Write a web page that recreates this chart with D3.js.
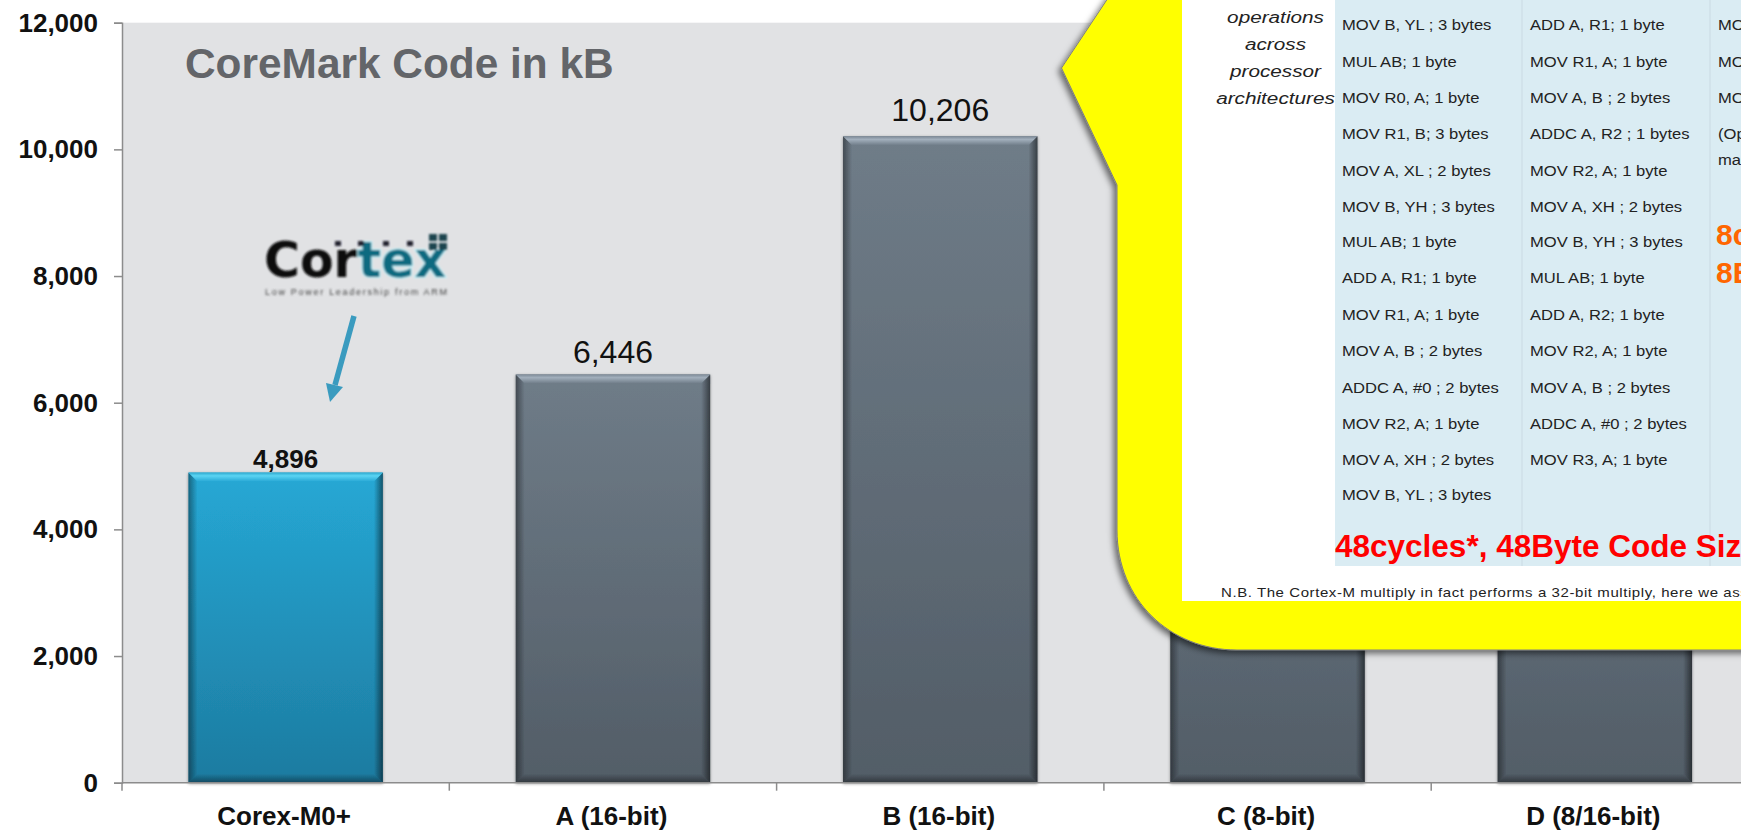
<!DOCTYPE html>
<html>
<head>
<meta charset="utf-8">
<script src="https://cdn.jsdelivr.net/npm/d3@7"></script>
<style>
html, body { margin: 0; padding: 0; background: #fff; overflow: hidden; }
text { font-family: "Liberation Sans", Arial, sans-serif; }
</style>
</head>
<body>
<svg id="chart" width="1741" height="836"></svg>
<script>
// chart data, C and D tops are hidden behind the callout so those two are guesses
var categories = ["Corex-M0+", "A (16-bit)", "B (16-bit)", "C (8-bit)", "D (8/16-bit)"];
var codeSize = [4896, 6446, 10206, 7000, 6900];
var yTicks = [0, 2000, 4000, 6000, 8000, 10000, 12000];

// callout text
var sideNote = ["operations", "across", "processor", "architectures"];
var col1 = ["MOV B, YL ; 3 bytes", "MUL AB; 1 byte", "MOV R0, A; 1 byte", "MOV R1, B; 3 bytes", "MOV A, XL ; 2 bytes", "MOV B, YH ; 3 bytes", "MUL AB; 1 byte", "ADD A, R1; 1 byte", "MOV R1, A; 1 byte", "MOV A, B ; 2 bytes", "ADDC A, #0 ; 2 bytes", "MOV R2, A; 1 byte", "MOV A, XH ; 2 bytes", "MOV B, YL ; 3 bytes"];
var col2 = ["ADD A, R1; 1 byte", "MOV R1, A; 1 byte", "MOV A, B ; 2 bytes", "ADDC A, R2 ; 1 bytes", "MOV R2, A; 1 byte", "MOV A, XH ; 2 bytes", "MOV B, YH ; 3 bytes", "MUL AB; 1 byte", "ADD A, R2; 1 byte", "MOV R2, A; 1 byte", "MOV A, B ; 2 bytes", "ADDC A, #0 ; 2 bytes", "MOV R3, A; 1 byte"];
var col3 = ["MOV", "MOV", "MOV", "(Optional", "ma"];
var rowY = [25, 62, 98, 134, 171, 207, 242, 278, 315, 351, 388, 424, 460, 495];
var col3Y = [25, 62, 98, 134, 160];

var svg = d3.select("#chart");
var W = 1741, H = 836;

var left = 122, top_ = 22.7, bottom = 782.7;
var step = 327.3;

var x = d3.scaleBand().domain(categories).range([left, left + step * categories.length]).paddingInner(0.406).paddingOuter(0.203);
var y = d3.scaleLinear().domain([0, 12000]).range([bottom, top_]);

var defs = svg.append("defs");

function gradient(id, x2, y2, stops) {
	var g = defs.append("linearGradient").attr("id", id).attr("x1", 0).attr("y1", 0).attr("x2", x2).attr("y2", y2);
	stops.forEach(function (s) {
		g.append("stop").attr("offset", s[0]).attr("stop-color", s[1]).attr("stop-opacity", s[2] === undefined ? 1 : s[2]);
	});
}
gradient("greyBar", 0, 1, [["0%", "#6f7c88"], ["100%", "#525d67"]]);
gradient("blueBar", 0, 1, [["0%", "#26a8d5"], ["100%", "#1d7ba0"]]);
gradient("greyTop", 0, 1, [["0%", "#7d8a97"], ["35%", "#a2afbc"], ["100%", "#6f7c88"]]);
gradient("blueTop", 0, 1, [["0%", "#2fa9cf"], ["35%", "#5ad4f3"], ["100%", "#26a8d5"]]);
gradient("edgeLeft", 1, 0, [["0%", "#000", 0.4], ["100%", "#000", 0]]);
gradient("edgeRight", 1, 0, [["0%", "#000", 0], ["100%", "#000", 0.5]]);
gradient("edgeBottom", 0, 1, [["0%", "#000", 0], ["100%", "#000", 0.4]]);

var sh = defs.append("filter").attr("id", "barShadow").attr("x", "-10%").attr("y", "-10%").attr("width", "120%").attr("height", "120%");
sh.append("feDropShadow").attr("dx", 0).attr("dy", 1).attr("stdDeviation", 1.6).attr("flood-color", "#000").attr("flood-opacity", 0.4);

var sh2 = defs.append("filter").attr("id", "calloutShadow").attr("x", "-10%").attr("y", "-10%").attr("width", "120%").attr("height", "120%");
sh2.append("feDropShadow").attr("dx", -3).attr("dy", 3).attr("stdDeviation", 3).attr("flood-color", "#000").attr("flood-opacity", 0.55);

defs.append("filter").attr("id", "logoBlur").append("feGaussianBlur").attr("stdDeviation", 1);

// plot background
svg.append("rect").attr("x", left).attr("y", top_).attr("width", W - left).attr("height", bottom - top_).attr("fill", "#e1e2e4");

// bars with a bevelled edge
var bev = 9;
var bars = svg.append("g").selectAll("g").data(categories).enter().append("g").attr("filter", "url(#barShadow)");
bars.each(function (d, i) {
	var g = d3.select(this);
	var x0 = x(d), x1 = x(d) + x.bandwidth(), y0 = y(codeSize[i]), y1 = y(0);
	var isBlue = i == 0;
	g.append("rect").attr("x", x0).attr("y", y0).attr("width", x1 - x0).attr("height", y1 - y0)
		.attr("fill", isBlue ? "url(#blueBar)" : "url(#greyBar)");
	g.append("polygon").attr("points", [[x0, y0], [x0 + bev, y0 + bev], [x0 + bev, y1 - bev], [x0, y1]].join(" "))
		.attr("fill", "url(#edgeLeft)");
	g.append("polygon").attr("points", [[x1, y0], [x1 - bev, y0 + bev], [x1 - bev, y1 - bev], [x1, y1]].join(" "))
		.attr("fill", "url(#edgeRight)");
	g.append("polygon").attr("points", [[x0, y1], [x0 + bev, y1 - bev], [x1 - bev, y1 - bev], [x1, y1]].join(" "))
		.attr("fill", "url(#edgeBottom)");
	g.append("polygon").attr("points", [[x0, y0], [x1, y0], [x1 - bev, y0 + bev], [x0 + bev, y0 + bev]].join(" "))
		.attr("fill", isBlue ? "url(#blueTop)" : "url(#greyTop)");
});

// value labels, the gaps above the bars are not even in the original
var labelGap = [5, 11, 15, 11, 11];
svg.append("g").selectAll("text").data(categories).enter().append("text")
	.attr("x", function (d) { return x(d) + x.bandwidth() / 2; })
	.attr("y", function (d, i) { return y(codeSize[i]) - labelGap[i]; })
	.attr("text-anchor", "middle")
	.attr("font-size", function (d, i) { return i == 0 ? 26 : 32; })
	.attr("font-weight", function (d, i) { return i == 0 ? "bold" : "normal"; })
	.attr("fill", "#111")
	.text(function (d, i) { return d3.format(",")(codeSize[i]); });

// axes
var yAxis = d3.axisLeft(y).tickValues(yTicks).tickFormat(d3.format(",")).tickSize(8).tickPadding(16);
var yG = svg.append("g").attr("transform", "translate(" + left + ",0)").call(yAxis);
yG.select(".domain").attr("stroke", "#8c8c8c").attr("stroke-width", 1.5);
yG.selectAll(".tick line").attr("stroke", "#8c8c8c").attr("stroke-width", 1.5);
yG.selectAll(".tick text").attr("font-family", "Liberation Sans").attr("font-size", 26).attr("font-weight", "bold").attr("fill", "#111");

var xG = svg.append("g").attr("transform", "translate(0," + bottom + ")");
xG.append("line").attr("x1", left).attr("x2", W).attr("stroke", "#8c8c8c").attr("stroke-width", 1.5);
xG.selectAll("line.t").data(d3.range(categories.length + 1)).enter().append("line").attr("class", "t")
	.attr("x1", function (i) { return left + step * i; })
	.attr("x2", function (i) { return left + step * i; })
	.attr("y1", 0).attr("y2", 8).attr("stroke", "#8c8c8c").attr("stroke-width", 1.5);
xG.selectAll("text").data(categories).enter().append("text")
	.attr("x", function (d) { return x(d) + x.bandwidth() / 2 - 1.5; })
	.attr("y", 42)
	.attr("text-anchor", "middle").attr("font-size", 26).attr("font-weight", "bold").attr("fill", "#111")
	.text(function (d) { return d; });

// title
svg.append("text").attr("x", 185).attr("y", 78).attr("font-size", 42.4).attr("font-weight", "bold").attr("fill", "#636569").text("CoreMark Code in kB");

// Cortex logo
var logo = svg.append("g").attr("filter", "url(#logoBlur)");
var logoText = logo.append("text").attr("x", 264).attr("y", 277).attr("font-size", 49).attr("font-weight", "bold").style("font-family", "DejaVu Sans");
logoText.append("tspan").attr("fill", "#111").text("Cor");
logoText.append("tspan").attr("fill", "#0c6a80").attr("stroke", "#c4f6ff").attr("stroke-width", 2).style("paint-order", "stroke").text("tex");
logo.selectAll("rect.dot").data([335, 358, 383, 407]).enter().append("rect").attr("class", "dot")
	.attr("x", function (d) { return d; }).attr("y", 241).attr("width", 6).attr("height", 5).attr("fill", "#223");
logo.selectAll("rect.sq").data([[429, 234], [439, 234], [429, 243], [439, 243]]).enter().append("rect").attr("class", "sq")
	.attr("x", function (d) { return d[0]; }).attr("y", function (d) { return d[1]; }).attr("width", 8).attr("height", 7).attr("fill", "#1d4450");
logo.append("text").attr("x", 265).attr("y", 295).attr("font-size", 9).attr("fill", "#444").attr("textLength", 182).text("Low Power Leadership from ARM");

// arrow
svg.append("line").attr("x1", 354).attr("y1", 316).attr("x2", 335).attr("y2", 385).attr("stroke", "#3a9bbf").attr("stroke-width", 5.5);
svg.append("polygon").attr("points", "330,402 326,383 343,387").attr("fill", "#3a9bbf");

// yellow callout, runs off the top and right
var callout = d3.path();
callout.moveTo(1120, -20);
callout.lineTo(1061.5, 68);
callout.lineTo(1117, 185);
callout.lineTo(1117, 530);
callout.bezierCurveTo(1117, 600, 1170, 650, 1237, 650);
callout.lineTo(1780, 650);
callout.lineTo(1780, -20);
callout.closePath();
svg.append("path").attr("d", callout.toString()).attr("fill", "#ffff00").attr("stroke", "#7f7f7f").attr("stroke-width", 1).attr("filter", "url(#calloutShadow)");

// white slide inside the callout
svg.append("rect").attr("x", 1182).attr("y", 0).attr("width", W - 1182).attr("height", 601).attr("fill", "#fff");
svg.append("rect").attr("x", 1335).attr("y", 0).attr("width", W - 1335).attr("height", 566).attr("fill", "#daecf3");
svg.selectAll("line.col").data([1522, 1710]).enter().append("line").attr("class", "col")
	.attr("x1", function (d) { return d; }).attr("x2", function (d) { return d; })
	.attr("y1", 0).attr("y2", 566).attr("stroke", "#cfe1e9").attr("stroke-width", 1.5);

// the pasted slide is stretched sideways, so its small text is too
svg.append("g").selectAll("text").data(sideNote).enter().append("text")
	.attr("transform", function (d, i) { return "translate(1275.5," + (23 + i * 27) + ") scale(1.22,1)"; })
	.attr("text-anchor", "middle").attr("font-size", 17).attr("font-style", "italic").attr("fill", "#222")
	.text(function (d) { return d; });

function column(items, xPos, rows) {
	svg.append("g").selectAll("text").data(items).enter().append("text")
		.attr("transform", function (d, i) { return "translate(" + xPos + "," + (rows[i] + 5) + ") scale(1.145,1)"; })
		.attr("font-size", 14.5).attr("fill", "#222")
		.text(function (d) { return d; });
}
column(col1, 1342, rowY);
column(col2, 1530, rowY);
column(col3, 1718, col3Y);

svg.append("text").attr("x", 1716).attr("y", 245).attr("font-size", 30).attr("font-weight", "bold").attr("fill", "#ff6600").text("8cycles");
svg.append("text").attr("x", 1716).attr("y", 283).attr("font-size", 30).attr("font-weight", "bold").attr("fill", "#ff6600").text("8Byte Code Size");
svg.append("text").attr("x", 1335).attr("y", 557).attr("font-size", 31.5).attr("font-weight", "bold").attr("fill", "#ff0000").text("48cycles*, 48Byte Code Size");
svg.append("text").attr("transform", "translate(1221,597) scale(1.155,1)").attr("font-size", 13).attr("fill", "#222").style("letter-spacing", "0.5px").text("N.B. The Cortex-M multiply in fact performs a 32-bit multiply, here we assume");
</script>
</body>
</html>
